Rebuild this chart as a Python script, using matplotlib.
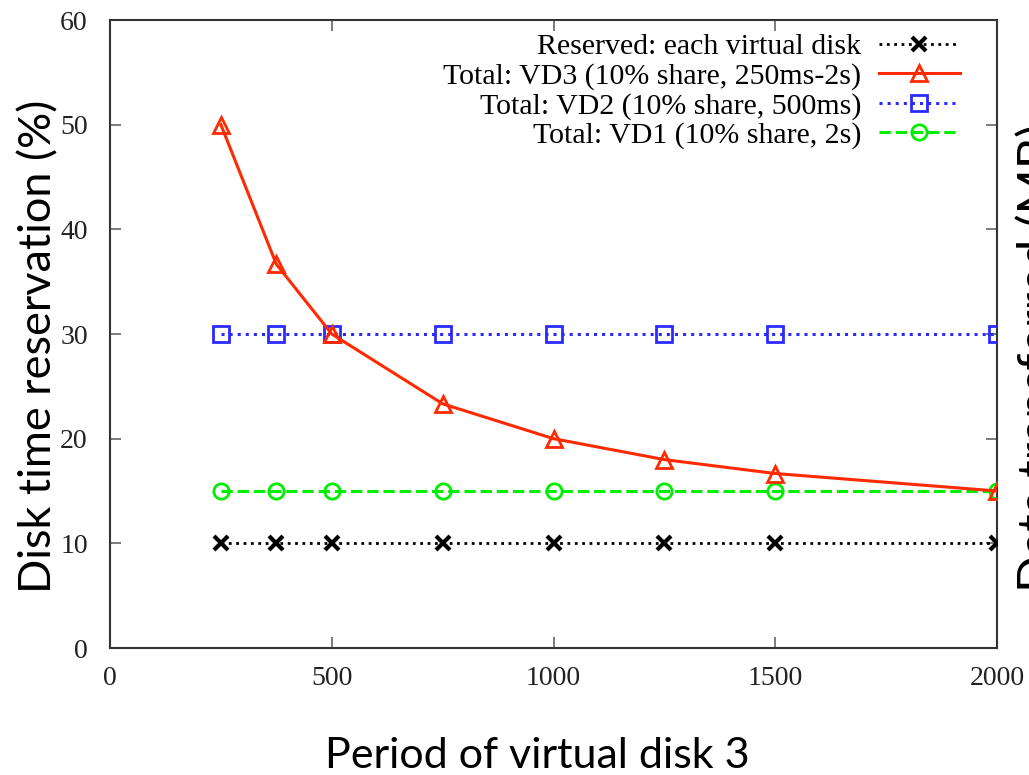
import matplotlib
matplotlib.use("Agg")
import matplotlib.pyplot as plt

periods = [250, 375, 500, 750, 1000, 1250, 1500, 2000]
reserved_each = [10, 10, 10, 10, 10, 10, 10, 10]
total_vd3 = [50, 36.67, 30, 23.33, 20, 18, 16.67, 15]
total_vd2 = [30, 30, 30, 30, 30, 30, 30, 30]
total_vd1 = [15, 15, 15, 15, 15, 15, 15, 15]

labels = ["Reserved: each virtual disk",
          "Total: VD3 (10% share, 250ms-2s)",
          "Total: VD2 (10% share, 500ms)",
          "Total: VD1 (10% share, 2s)"]
x_ticks = [0, 500, 1000, 1500, 2000]
y_ticks = [0, 10, 20, 30, 40, 50, 60]

W, H = 1029, 775
fig = plt.figure(figsize=(W / 100, H / 100), dpi=100)
L, R, T, B = 110, 997, 20, 648
ax = fig.add_axes([L / W, 1 - B / H, (R - L) / W, (B - T) / H])

ax.plot(periods, reserved_each, color="black", linestyle=":", linewidth=2,
        marker="x", markersize=10, markeredgewidth=3, label=labels[0], zorder=3)
ax.plot(periods, total_vd3, color="#ff2a00", linestyle="-", linewidth=2.2,
        marker="^", markersize=12, markerfacecolor="none", markeredgewidth=2,
        label=labels[1], zorder=4)
ax.plot(periods, total_vd2, color="#2a2aff", linestyle=":", linewidth=2.2,
        marker="s", markersize=11, markerfacecolor="none", markeredgewidth=2,
        label=labels[2], zorder=3)
ax.plot(periods, total_vd1, color="#00ee00", linestyle="--", linewidth=2.2,
        marker="o", markersize=11, markerfacecolor="none", markeredgewidth=2,
        label=labels[3], zorder=3)

ax.set_xlim(0, 2000)
ax.set_ylim(0, 60)
ax.set_xticks(x_ticks)
ax.set_yticks(y_ticks)
serif = ["Liberation Serif", "DejaVu Serif"]
for lab in ax.get_xticklabels() + ax.get_yticklabels():
    lab.set_family(serif)
    lab.set_fontsize(20)
    lab.set_color("#222222")
ax.tick_params(direction="in", length=8, width=1.2, color="#666666",
               top=True, right=True)
ax.tick_params(axis="x", pad=13)
ax.tick_params(axis="y", pad=16)
for s in ax.spines.values():
    s.set_color("#333333")
    s.set_linewidth(1.5)

sans = ["Lato", "DejaVu Sans"]
ax.set_xlabel("Period of virtual disk 3", family=sans, fontsize=31)
ax.xaxis.set_label_coords((537 - L) / (R - L), (B - 737) / (B - T))
ax.set_ylabel("Disk time reservation (%)", family=sans, fontsize=32.5)
ax.yaxis.set_label_coords((59 - L) / (R - L), (B - 346) / (B - T))

fig.text(1016 / W, 1 - 592 / H, "Data transferred (MB)",
         family=sans, fontsize=35, rotation=90, ha="left", va="bottom")

leg = ax.legend(loc="upper right", frameon=False, markerfirst=False,
                prop={"family": serif, "size": 21.5}, handlelength=2.7,
                labelspacing=0.08, borderaxespad=0, borderpad=0.35,
                handletextpad=0.6,
                bbox_to_anchor=((970 - L) / (R - L), (B - T - 3) / (B - T)))
for t in leg.get_texts():
    t.set_ha("right")
leg._legend_box.align = "right"

fig.savefig("out.png", dpi=100)
